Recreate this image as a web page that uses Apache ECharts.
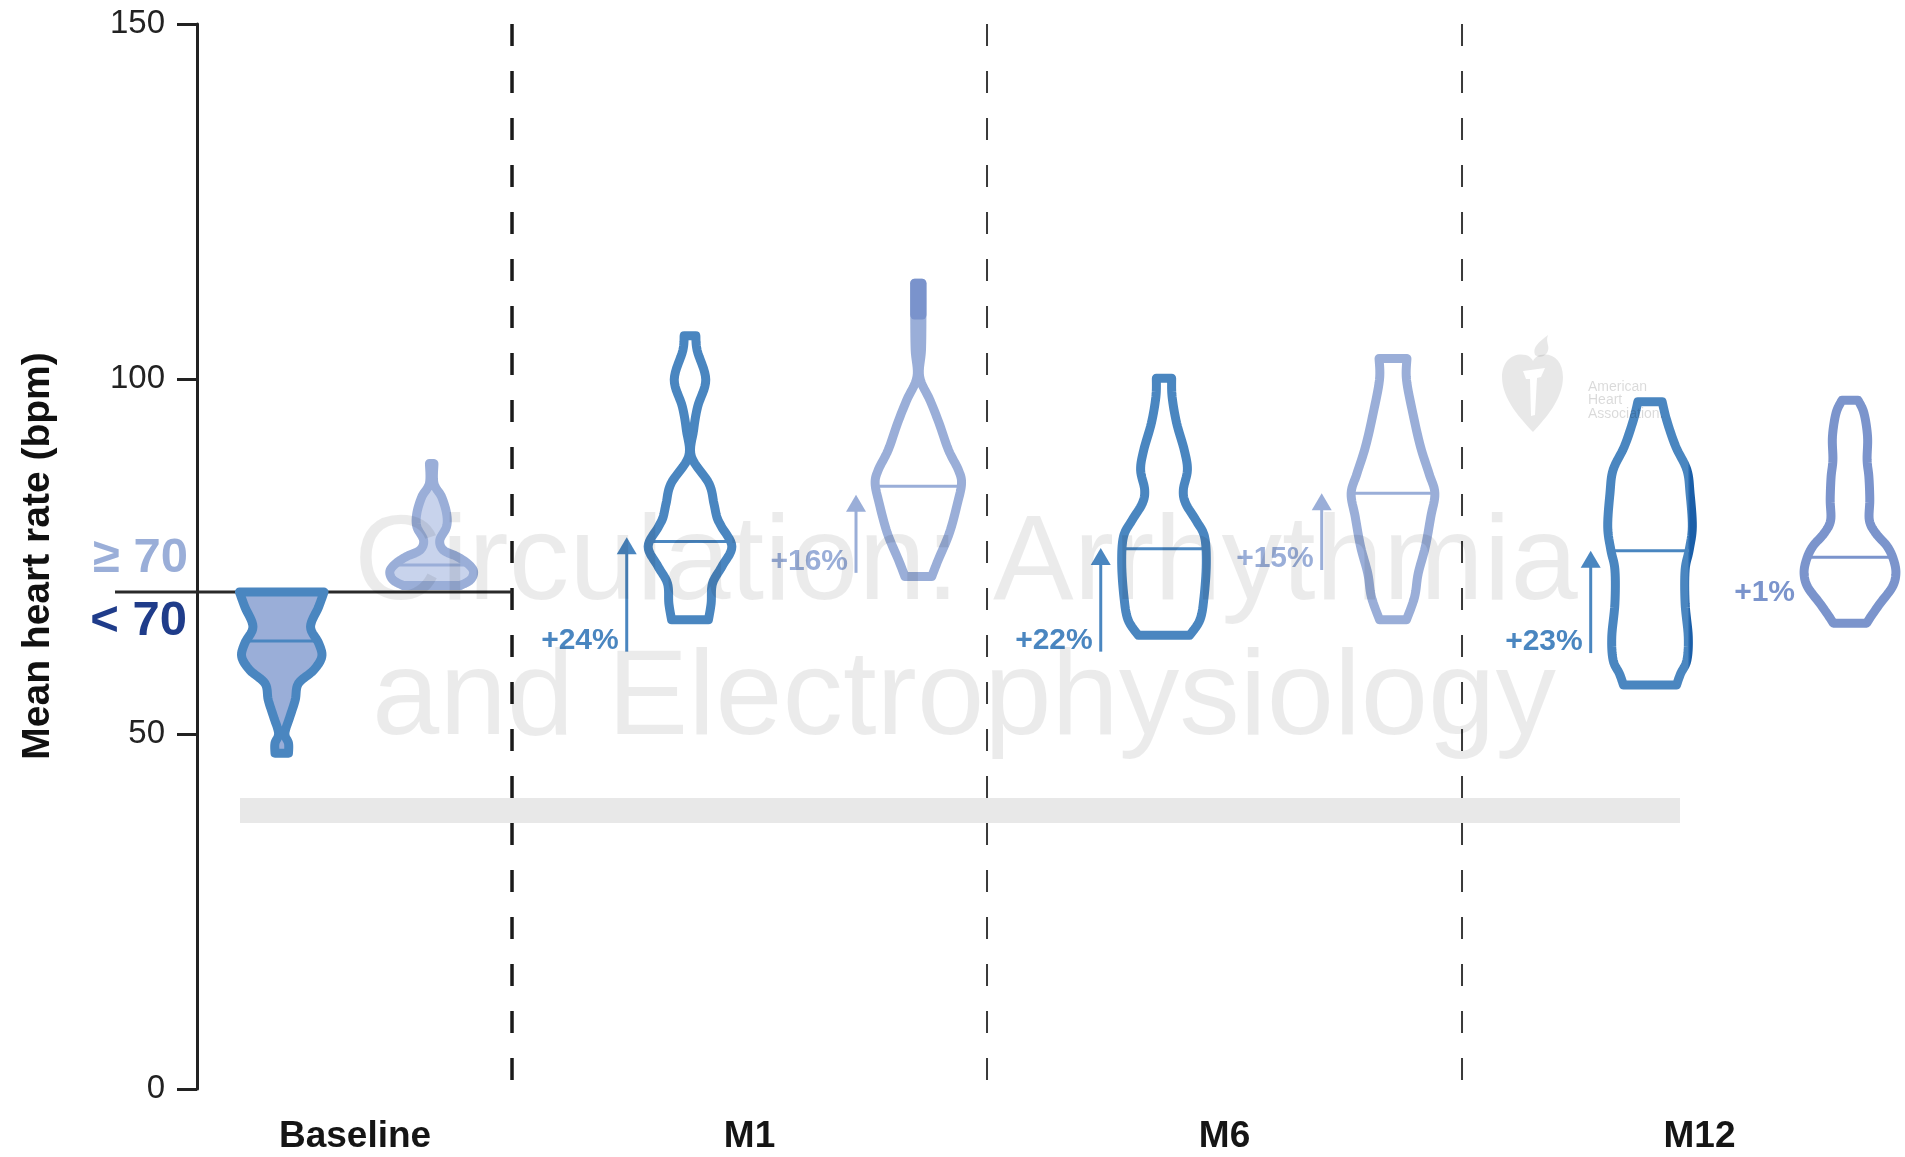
<!DOCTYPE html>
<html><head><meta charset="utf-8">
<script src="https://cdn.jsdelivr.net/npm/echarts@6/dist/echarts.min.js"></script>
<style>html,body{margin:0;padding:0;background:#fff}#chart{width:1905px;height:1157px}</style>
</head><body><div id="chart"></div>
<script>
// ---------------- DATA ----------------
const categories = ['Baseline', 'M1', 'M6', 'M12'];
const yTicks = [0, 50, 100, 150];
const threshold = 70;
const groupLabels = ['\u2265 70', '< 70'];

// Violin outlines: heart rate (bpm) from top to bottom, and relative density (half-width)
const hrBaseLow  = [70.0, 67.9, 65.1, 62.8, 60.9, 59.0, 57.1, 54.8, 52.4, 50.1, 48.7, 47.3];
const denBaseLow = [0.94, 0.82, 0.64, 0.82, 0.89, 0.71, 0.37, 0.30, 0.18, 0.07, 0.15, 0.15];

const hrBaseHigh  = [88.1, 85.3, 83.4, 81.1, 79.2, 77.3, 75.9, 75.0, 74.0, 72.9, 71.7, 70.9];
const denBaseHigh = [0.05, 0.05, 0.22, 0.33, 0.33, 0.18, 0.26, 0.56, 0.80, 0.93, 0.86, 0.63];

const hrM1Low  = [106.1, 104.0, 99.9, 96.1, 92.8, 89.1, 85.3, 82.5, 80.5, 79.2, 76.4, 73.6, 71.2, 68.4, 66.1];
const denM1Low = [0.13, 0.16, 0.35, 0.17, 0.08, 0.03, 0.42, 0.53, 0.60, 0.70, 0.93, 0.71, 0.50, 0.47, 0.41];

const hrM1High  = [113.5, 108.8, 104.1, 100.3, 97.0, 93.8, 90.0, 87.2, 85.3, 82.5, 78.3, 74.5, 72.2];
const denM1High = [0.08, 0.08, 0.07, 0.03, 0.26, 0.46, 0.67, 0.89, 0.96, 0.87, 0.69, 0.44, 0.30];

const hrM6Low  = [100.1, 97.5, 93.8, 90.0, 87.2, 84.4, 82.5, 80.1, 77.8, 74.0, 69.3, 66.1, 63.9];
const denM6Low = [0.17, 0.18, 0.28, 0.45, 0.52, 0.43, 0.48, 0.71, 0.90, 0.94, 0.89, 0.80, 0.57];

const hrM6High  = [102.9, 99.9, 95.2, 90.5, 86.7, 83.9, 80.6, 76.4, 72.6, 69.3, 66.1];
const denM6High = [0.31, 0.30, 0.44, 0.61, 0.80, 0.93, 0.84, 0.72, 0.56, 0.48, 0.30];

const hrM12Low  = [96.8, 94.2, 90.5, 87.2, 83.9, 79.2, 75.9, 73.1, 68.4, 63.7, 60.4, 58.5, 56.9];
const denM12Low = [0.27, 0.37, 0.57, 0.82, 0.89, 0.94, 0.87, 0.78, 0.78, 0.85, 0.82, 0.68, 0.59];

const hrM12High  = [97.0, 95.2, 91.9, 88.6, 86.2, 83.0, 80.1, 78.3, 76.4, 74.5, 72.6, 70.7, 68.4, 66.5, 65.6];
const denM12High = [0.18, 0.31, 0.39, 0.38, 0.42, 0.44, 0.43, 0.57, 0.83, 0.97, 1.02, 0.94, 0.67, 0.46, 0.37];

const medians = [63.1, 73.8, 77.1, 84.9, 76.1, 83.9, 75.8, 74.9];

// Change arrows (bpm from -> to) and percentage labels
const arrowFrom   = [61.6, 72.7, 61.6, 73.1, 61.4, 68.4];
const arrowTo     = [77.7, 83.7, 76.2, 83.9, 75.8, null];
const arrowLabels = ['+24%', '+16%', '+22%', '+15%', '+23%', '+1%'];

// ---------------- LAYOUT / STYLE ----------------
const violinHR  = [hrBaseLow, hrBaseHigh, hrM1Low, hrM1High, hrM6Low, hrM6High, hrM12Low, hrM12High];
const violinDen = [denBaseLow, denBaseHigh, denM1Low, denM1High, denM6Low, denM6High, denM12Low, denM12High];
const violinX = [0.5152, 0.8309, 1.3747, 1.8554, 2.3726, 2.8547, 3.3958, 3.8168];
const arrowX  = [1.2415, 1.7242, 2.2394, 2.7046, 3.2709, 3.7179];
const arrowIsLow = [true, false, true, false, true, false];
const categoryX = [0.6695, 1.5, 2.5, 3.5];
const separatorX = [1, 2, 3];
const HALF = 45 / 475; // x-units for density 1
const darkTailTo = [null, null, null, 109.0, null, null, null, null]; // overlapping-stroke shading at the tip

const LOW = '#4a86c0', HIGH = '#9aaed8', HIGH12 = '#7b94cc';
const grad12 = {type: 'linear', x: 0, y: 0, x2: 1, y2: 0, global: false, colorStops: [
  {offset: 0, color: LOW}, {offset: 0.9, color: LOW}, {offset: 0.93, color: '#1a5ea8'}, {offset: 1, color: '#1a5ea8'}]};
const violinStroke = [LOW, HIGH, LOW, HIGH, LOW, HIGH, grad12, HIGH12];
const violinFill = ['#9aaed8', '#c8d3ec', null, null, null, null, null, null];
const medianColor = [LOW, HIGH, LOW, HIGH, LOW, HIGH, LOW, HIGH12];
const FONT = '"Liberation Sans", Arial, Helvetica, sans-serif';

function catmull(pts, seg) {
  const out = [];
  for (let i = 0; i < pts.length - 1; i++) {
    const p0 = pts[Math.max(i - 1, 0)], p1 = pts[i], p2 = pts[i + 1], p3 = pts[Math.min(i + 2, pts.length - 1)];
    for (let t = 0; t < seg; t++) {
      const s = t / seg, s2 = s * s, s3 = s2 * s;
      const f = (a, b, c, d) => 0.5 * (2 * b + (-a + c) * s + (2 * a - 5 * b + 4 * c - d) * s2 + (-a + 3 * b - 3 * c + d) * s3);
      out.push([f(p0[0], p1[0], p2[0], p3[0]), f(p0[1], p1[1], p2[1], p3[1])]);
    }
  }
  out.push(pts[pts.length - 1]);
  return out;
}
function interpDen(hr, den, v) {
  for (let k = 0; k < hr.length - 1; k++) {
    const a = hr[k], b = hr[k + 1];
    if (v <= a && v >= b) { const t = (a - v) / (a - b); return den[k] + t * (den[k + 1] - den[k]); }
  }
  return den[den.length - 1];
}

function renderViolin(params, api) {
  const i = api.value(2);
  const xc = api.value(0);
  const hr = violinHR[i], den = violinDen[i];
  const left = [], right = [];
  for (let k = 0; k < hr.length; k++) {
    left.push(api.coord([xc - den[k] * HALF, hr[k]]));
    right.push(api.coord([xc + den[k] * HALF, hr[k]]));
  }
  const pts = catmull(left, 8).concat(catmull(right, 8).reverse());
  const md = medians[i];
  const w = interpDen(hr, den, md) * HALF;
  const m0 = api.coord([xc - w, md]), m1 = api.coord([xc + w, md]);
  const children = [
    {type: 'polygon', shape: {points: pts},
      style: {fill: violinFill[i] || 'none', stroke: violinStroke[i], lineWidth: 9, lineJoin: 'round', lineCap: 'round'}},
    {type: 'line', shape: {x1: m0[0], y1: m0[1], x2: m1[0], y2: m1[1]},
      style: {stroke: medianColor[i], lineWidth: 3}}
  ];
  if (darkTailTo[i] != null) {
    const v = darkTailTo[i], wd = interpDen(hr, den, v) * HALF;
    const tp = [api.coord([xc - den[0] * HALF, hr[0]]), api.coord([xc - wd, v]), api.coord([xc + wd, v]), api.coord([xc + den[0] * HALF, hr[0]])];
    children.push({type: 'polygon', shape: {points: tp},
      style: {fill: '#7a93cc', stroke: '#7a93cc', lineWidth: 9, lineJoin: 'round'}});
  }
  return {type: 'group', children};
}

function renderArrow(params, api) {
  const j = api.value(2);
  const x = api.value(0);
  const base = api.coord([x, arrowFrom[j]]);
  const color = arrowIsLow[j] ? LOW : (j === 5 ? HIGH12 : HIGH);
  const children = [];
  if (arrowTo[j] != null) {
    const tip = api.coord([x, arrowTo[j]]);
    children.push({type: 'line', shape: {x1: base[0], y1: base[1], x2: tip[0], y2: tip[1] + 16},
      style: {stroke: color, lineWidth: 3}});
    children.push({type: 'polygon', shape: {points: [[tip[0], tip[1]], [tip[0] - 10, tip[1] + 17], [tip[0] + 10, tip[1] + 17]]},
      style: {fill: color}});
  }
  children.push({type: 'text', style: {text: arrowLabels[j], x: base[0] - 8, y: base[1] - 11,
    align: 'right', verticalAlign: 'middle', fill: color, font: 'bold 30px ' + FONT}});
  return {type: 'group', children};
}

function renderGuides(params, api) {
  const children = [];
  separatorX.forEach((sx, k) => {
    const p0 = api.coord([sx, 150]), p1 = api.coord([sx, 1.17]);
    children.push({type: 'line', shape: {x1: p0[0], y1: p0[1], x2: p1[0], y2: p1[1]},
      style: {stroke: k === 0 ? '#1a1a1a' : '#3a3a3a', lineWidth: k === 0 ? 3.5 : 2, lineDash: [22, 25]}});
  });
  const t0 = api.coord([0.1642, threshold]), t1 = api.coord([separatorX[0], threshold]);
  children.push({type: 'line', shape: {x1: t0[0], y1: t0[1], x2: t1[0], y2: t1[1]},
    style: {stroke: '#2a2a2a', lineWidth: 3}});
  const axX = api.coord([0.3368, threshold])[0];
  children.push({type: 'text', style: {text: groupLabels[0], x: axX - 9, y: t0[1] - 34, align: 'right', verticalAlign: 'middle',
    fill: HIGH, font: 'bold 49px ' + FONT}});
  children.push({type: 'text', style: {text: groupLabels[1], x: axX - 10, y: t0[1] + 29, align: 'right', verticalAlign: 'middle',
    fill: '#1f3c8a', font: 'bold 49px ' + FONT}});
  categoryX.forEach((cx, k) => {
    const p = api.coord([cx, 0]);
    children.push({type: 'text', style: {text: categories[k], x: p[0], y: p[1] + 48, align: 'center', verticalAlign: 'middle',
      fill: '#151515', font: 'bold 37px ' + FONT}});
  });
  return {type: 'group', children};
}

function renderLogo(params, api) {
  return {type: 'group', x: 1502, y: 335, children: [
    {type: 'path', shape: {pathData: 'M31,97 C20,85 0,65 0,42 C0,25 12,17 24,20 C28,21 30,24 31,26 C32,24 34,21 38,20 C50,17 61,25 61,42 C61,65 42,85 31,97 Z'},
      style: {fill: 'rgba(0,0,0,0.09)'}},
    {type: 'path', shape: {pathData: 'M33,20 C30,12 37,7 46,0 C43,8 49,11 45,18 C42,22 37,23 33,20 Z'}, style: {fill: 'rgba(0,0,0,0.09)'}},
    {type: 'path', shape: {pathData: 'M21,36 L43,33 L39,42 L35,43 L33,80 L29,81 L28,44 L24,44 Z'}, style: {fill: '#ffffff'}},
    {type: 'text', x: 86, y: 45, style: {text: 'American\nHeart\nAssociation.', fill: 'rgba(0,0,0,0.15)', font: '14px ' + FONT, lineHeight: 13.5, verticalAlign: 'top'}}
  ]};
}

const chart = echarts.init(document.getElementById('chart'), null, {renderer: 'canvas'});
chart.setOption({
  backgroundColor: '#ffffff',
  animation: false,
  grid: {left: 197, right: 0, top: 24, bottom: 68, containLabel: false},
  xAxis: {
    type: 'value', min: 0.3368, max: 3.9326,
    axisLine: {show: false}, axisTick: {show: false}, splitLine: {show: false}, axisLabel: {show: false}
  },
  yAxis: {
    type: 'value', min: 0, max: 150, interval: 50,
    axisLine: {show: true, lineStyle: {color: '#222', width: 3}},
    axisTick: {show: true, inside: false, length: 20, lineStyle: {color: '#222', width: 3}},
    splitLine: {show: false},
    axisLabel: {margin: 32, fontSize: 33, color: '#222', fontFamily: FONT}
  },
  graphic: [
    {type: 'text', x: 38, y: 556, rotation: Math.PI / 2, z: 10,
      style: {text: 'Mean heart rate (bpm)', align: 'center', verticalAlign: 'middle', fill: '#111', font: 'bold 39px ' + FONT}},
    {type: 'text', x: 966, y: 566, z: 200, silent: true,
      style: {text: 'Circulation: Arrhythmia', align: 'center', verticalAlign: 'middle', fill: 'rgba(0,0,0,0.08)', font: '121px ' + FONT}},
    {type: 'text', x: 964, y: 701, z: 200, silent: true,
      style: {text: 'and Electrophysiology', align: 'center', verticalAlign: 'middle', fill: 'rgba(0,0,0,0.08)', font: '121px ' + FONT}},
    {type: 'rect', z: 200, silent: true, shape: {x: 240, y: 798, width: 1440, height: 25}, style: {fill: 'rgba(0,0,0,0.09)'}}
  ],
  series: [
    {type: 'custom', name: 'guides', renderItem: renderGuides, data: [[1, 70, 0]], encode: {x: 0, y: 1}, z: 1, silent: true},
    {type: 'custom', name: 'violins', renderItem: renderViolin,
      data: violinX.map((x, i) => [x, medians[i], i]), encode: {x: 0, y: 1}, z: 3},
    {type: 'custom', name: 'arrows', renderItem: renderArrow,
      data: arrowX.map((x, j) => [x, arrowFrom[j], j]), encode: {x: 0, y: 1}, z: 4},
    {type: 'custom', name: 'logo', renderItem: renderLogo, data: [[1, 70, 0]], encode: {x: 0, y: 1}, z: 6, silent: true}
  ]
});
</script></body></html>
